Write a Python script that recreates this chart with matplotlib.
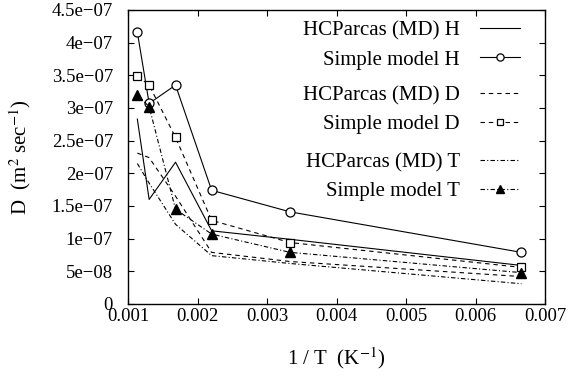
import matplotlib
matplotlib.use('Agg')
import matplotlib.pyplot as plt
from matplotlib.ticker import FuncFormatter, MultipleLocator

plt.rcParams['font.family'] = ['Liberation Serif', 'DejaVu Serif']
plt.rcParams['mathtext.fontset'] = 'stix'
plt.rcParams['font.size'] = 15

# 1/T values (K^-1)
inv_t = [0.00113, 0.0013, 0.00168, 0.0022, 0.00333, 0.00666]

# diffusion coefficients (m^2/s)
md_h = [2.83e-7, 1.60e-7, 2.17e-7, 1.12e-7, 9.9e-8, 5.9e-8]
model_h = [4.16e-7, 3.07e-7, 3.35e-7, 1.74e-7, 1.41e-7, 7.9e-8]
md_d = [2.31e-7, 2.24e-7, 1.65e-7, 7.9e-8, 6.5e-8, 4.2e-8]
model_d = [3.49e-7, 3.35e-7, 2.55e-7, 1.28e-7, 9.4e-8, 5.6e-8]
md_t = [2.15e-7, 1.85e-7, 1.22e-7, 7.4e-8, 6.2e-8, 3.1e-8]
model_t = [3.20e-7, 3.02e-7, 1.45e-7, 1.07e-7, 7.9e-8, 4.8e-8]

dash = (0, (4, 3.5))
dashdot = (0, (4, 2, 1, 2))

fig = plt.figure(figsize=(5.71, 3.76), dpi=100)
ax = fig.add_axes([0.2247, 0.1915, 0.7298, 0.782])

lw = 0.8
l1, = ax.plot(inv_t, md_h, color='black', lw=lw, label='HCParcas (MD) H')
l2, = ax.plot(inv_t, model_h, color='black', lw=lw, marker='o', ms=6.5,
              mfc='white', mec='black', mew=0.9, label='Simple model H')
l3, = ax.plot(inv_t, md_d, color='black', lw=lw, ls=dash, label='HCParcas (MD) D')
l4, = ax.plot(inv_t, model_d, color='black', lw=lw, ls=dash, marker='s', ms=6,
              mfc='white', mec='black', mew=0.9, label='Simple model D')
l5, = ax.plot(inv_t, md_t, color='black', lw=lw, ls=dashdot, label='HCParcas (MD) T')
l6, = ax.plot(inv_t, model_t, color='black', lw=lw, ls=dashdot, marker='^', ms=6.5,
              mfc='black', mec='black', label='Simple model T')

ax.set_xlim(0.001, 0.007)
ax.set_ylim(0, 4.5e-7)
ax.xaxis.set_major_locator(MultipleLocator(0.001))
ax.yaxis.set_major_locator(MultipleLocator(5e-8))


def yfmt(v, pos):
    if abs(v) < 1e-12:
        return '0'
    return ('%g' % v).replace('-', '\u2212')


ax.yaxis.set_major_formatter(FuncFormatter(yfmt))
ax.xaxis.set_major_formatter(FuncFormatter(lambda v, p: '%.3f' % v))
ax.tick_params(direction='in', length=4.5, width=0.8, top=True, right=True,
               labelsize=13.5)
ax.tick_params(axis='y', pad=11)
ax.tick_params(axis='x', pad=3)
for s in ax.spines.values():
    s.set_linewidth(1.0)

ax.set_xlabel(r'1 / T  (K$^{-1}$)', fontsize=15)
ax.set_ylabel(r'D  (m$^{2}$ sec$^{-1}$)', fontsize=15)
ax.xaxis.set_label_coords(0.5, -0.14)
ax.yaxis.set_label_coords(-0.228, 0.5)

legend_kw = dict(frameon=False, markerfirst=False, handlelength=1.92,
                 handletextpad=0.96, labelspacing=0.45, numpoints=1,
                 markerscale=0.8, borderaxespad=0, borderpad=0, fontsize=15)
leg1 = ax.legend(handles=[l1, l2], loc='upper right',
                 bbox_to_anchor=(0.94, 0.962), **legend_kw)
ax.add_artist(leg1)
leg2 = ax.legend(handles=[l3, l4], loc='upper right',
                 bbox_to_anchor=(0.94, 0.742), **legend_kw)
ax.add_artist(leg2)
ax.legend(handles=[l5, l6], loc='upper right',
          bbox_to_anchor=(0.94, 0.515), **legend_kw)

fig.savefig('out.png', dpi=100)
